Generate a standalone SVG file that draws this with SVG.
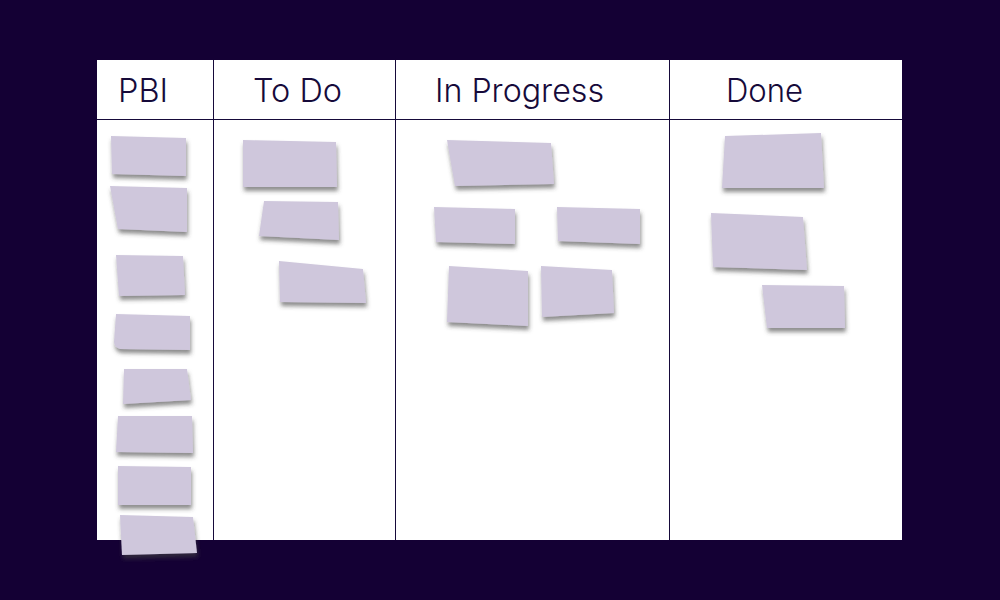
<svg xmlns="http://www.w3.org/2000/svg" width="1000" height="600" viewBox="0 0 1000 600">
<style>
.hdr{font-family:Inter,"Noto Sans","Liberation Sans",sans-serif;font-weight:300;font-size:32px;fill:#160a3a;}
.line{stroke:#160a3a;stroke-width:1;fill:none;}
.note{fill:#cfc7dc;filter:url(#sh);}
</style>
<defs>
<filter id="sh" x="-20%" y="-20%" width="140%" height="160%">
<feDropShadow dx="1" dy="4" stdDeviation="2.2" flood-color="#404040" flood-opacity="0.6"/>
</filter>
</defs>
<rect x="0" y="0" width="1000" height="600" fill="#140034"/>
<g id="board">
<rect x="97" y="60" width="805" height="480" fill="#ffffff"/>
<line class="line" x1="97" y1="119.5" x2="902" y2="119.5"/>
<line class="line" x1="213.5" y1="60" x2="213.5" y2="540"/>
<line class="line" x1="395.5" y1="60" x2="395.5" y2="540"/>
<line class="line" x1="669.5" y1="60" x2="669.5" y2="540"/>
</g>
<g id="headers">
<text class="hdr" x="118" y="102" textLength="50" lengthAdjust="spacingAndGlyphs">PBI</text>
<text class="hdr" x="253" y="102" textLength="89" lengthAdjust="spacingAndGlyphs">To Do</text>
<text class="hdr" x="435" y="102" textLength="169" lengthAdjust="spacingAndGlyphs">In Progress</text>
<text class="hdr" x="726" y="102" textLength="77" lengthAdjust="spacingAndGlyphs">Done</text>
</g>
<g id="pbi-notes">
<polygon class="note" points="111,136 186,138 186,176 112,174"/>
<polygon class="note" points="110,186 187,188 187,232 118,229"/>
<polygon class="note" points="116,255 183,256 185,295 119,296"/>
<path class="note" d="M116,314 L190,316 L190,350 L120,349 Q114,347 114,342 Z"/>
<polygon class="note" points="124,369 187,369 191,400 123,404"/>
<polygon class="note" points="118,416 192,416 193,453 116,452"/>
<polygon class="note" points="118,466 191,467 191,505 118,505"/>
<polygon class="note" points="120,515 193,517 197,553 122,555"/>
</g>
<g id="todo-notes">
<polygon class="note" points="243,140 336,142 337,187 243,187"/>
<polygon class="note" points="264,201 338,202 339,240 259,236"/>
<polygon class="note" points="279,261 363,269 366,303 280,302"/>
</g>
<g id="inprogress-notes">
<polygon class="note" points="447,140 551,143 554,184 455,186"/>
<polygon class="note" points="434,207 515,209 515,244 436,242"/>
<polygon class="note" points="557,207 640,209 640,244 558,241"/>
<polygon class="note" points="449,266 528,271 528,326 447,322"/>
<polygon class="note" points="541,266 612,270 614,313 542,317"/>
</g>
<g id="done-notes">
<polygon class="note" points="725,136 821,133 824,188 722,188"/>
<polygon class="note" points="711,213 803,217 807,270 713,267"/>
<polygon class="note" points="762,285 844,286 845,328 767,328"/>
</g>
</svg>
